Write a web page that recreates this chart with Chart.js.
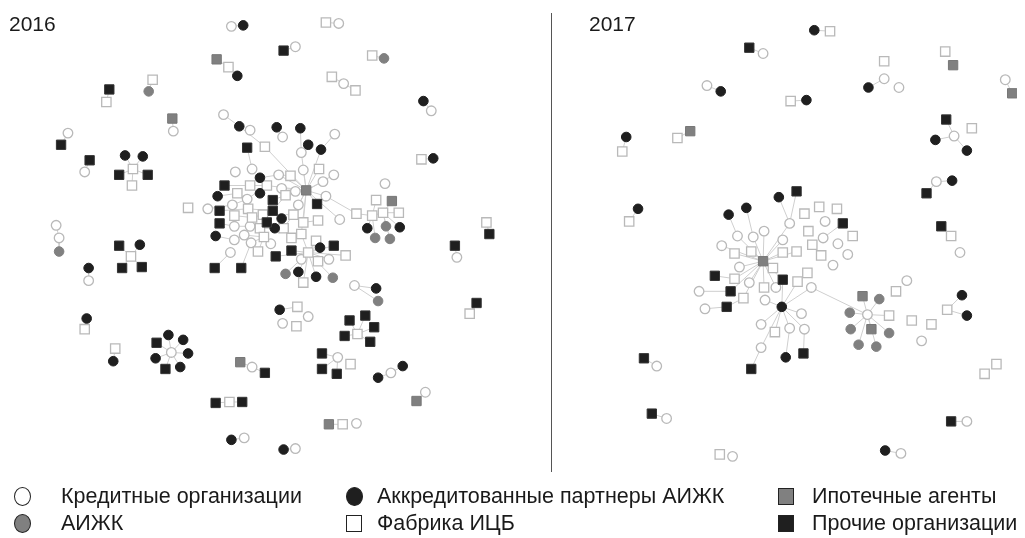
<!DOCTYPE html>
<html><head><meta charset="utf-8">
<script src="https://cdn.jsdelivr.net/npm/chart.js@4.4.1/dist/chart.umd.min.js"></script>
<style>
html,body{margin:0;padding:0;background:#fff;}
body{width:1025px;height:538px;overflow:hidden;position:relative;font-family:"Liberation Sans",Arial,sans-serif;color:#1a1a1a;}
#c{position:absolute;left:0;top:0;}
.title{position:absolute;top:12px;font-size:21px;line-height:24px;}
#divider{position:absolute;left:551px;top:13px;height:459px;border-left:1.3px solid #555;}
.lg{position:absolute;font-size:21.5px;line-height:24px;white-space:nowrap;}
.mk{position:absolute;box-sizing:border-box;}
</style></head>
<body>
<canvas id="c" width="1025" height="538"></canvas>
<div class="title" style="left:9px">2016</div>
<div class="title" style="left:589px">2017</div>
<div id="divider"></div>
<div id="legend"></div>
<script>
// ---- Node positions (chart units) by type ----
// Кредитные организации
const creditOrgs = [
 [227,19],[336,16],[292,40],[341,78],[430,106],[168,127],[61,129],[78,169],[49,224],[52,237],[82,281],[166,355],[248,370],[240,443],[292,454],[354,428],[424,396],[389,376],[335,360],[279,325],[305,318],[352,286],[456,257],[383,181],
 [219,110],[246,126],[279,133],[332,130],[298,149],[231,169],[248,166],[275,172],[300,167],[331,172],[320,179],[278,186],[292,189],[323,194],[243,197],[295,203],[228,203],[203,207],[337,218],[230,225],[246,225],[240,234],[230,239],[247,242],[267,243],[226,252],[298,259],[326,259],
 [767,47],[710,80],[890,73],[905,82],[1013,74],[961,132],[943,179],[967,252],[974,426],[907,459],[659,369],[669,423],[736,462],[873,316],[913,281],[928,343],[794,222],[830,220],[828,237],[843,243],[853,254],[838,265],
 [741,235],[757,236],[768,230],[787,239],[725,245],[743,267],[753,283],[702,292],[780,288],[708,310],[769,301],[765,326],[765,350],[816,288],[806,315],[794,330],[809,331]
];
// Аккредитованные партнеры АИЖК
const partners = [
 [239,18],[233,70],[119,152],[137,153],[134,244],[82,268],[80,320],[107,364],[163,337],[178,342],[183,356],[150,361],[175,370],[227,445],[280,455],[376,381],[401,369],[374,289],[276,311],[422,96],[432,155],[365,227],[398,226],
 [235,122],[273,123],[297,124],[305,141],[318,146],[256,175],[256,191],[213,194],[278,217],[271,227],[211,235],[317,247],[295,272],[313,277],
 [724,86],[628,133],[640,207],[819,23],[874,82],[811,95],[942,136],[974,147],[959,178],[969,296],[974,317],[891,456],[732,213],[750,206],[783,195],[786,308],[790,360]
];
// Ипотечные агенты
const mortgageAgents = [
 [212,53],[167,114],[303,188],[236,365],[326,429],[415,405],[390,199],
 [693,127],[960,59],[1020,88],[767,261],[868,297],[877,331]
];
// АИЖК
const aijk = [
 [143,86],[382,52],[52,251],[376,302],[384,225],[373,237],[388,238],[282,274],[330,278],
 [885,300],[855,314],[856,331],[895,335],[864,347],[882,349]
];
// Фабрика ИЦБ
const factory = [
 [224,61],[100,97],[147,74],[127,166],[126,183],[323,15],[370,49],[329,71],[353,85],[420,156],[125,256],[78,331],[109,351],[225,406],[340,429],[348,367],[355,336],[294,308],[293,328],[469,315],[486,221],[183,206],[374,198],[354,212],[370,214],[381,211],[397,211],
 [261,143],[287,173],[316,166],[246,183],[263,183],[233,191],[282,193],[244,207],[230,214],[248,216],[259,213],[290,213],[300,221],[315,219],[256,227],[280,227],[260,236],[288,237],[298,233],[313,240],[254,251],[305,252],[343,255],[315,261],[300,283],
 [680,134],[624,148],[631,220],[835,24],[890,55],[795,96],[952,45],[979,124],[958,235],[954,311],[1004,367],[992,377],[723,460],[895,317],[902,292],[918,322],[938,326],
 [824,205],[842,207],[809,212],[813,230],[858,235],[817,244],[826,255],[812,273],[801,251],[787,252],[738,253],[755,251],[777,268],[738,279],[768,288],[747,299],[779,334],[802,282]
];
// Прочие организации
const others = [
 [103,84],[54,141],[83,157],[113,172],[142,172],[280,44],[113,245],[116,268],[136,267],[151,345],[160,372],[261,376],[211,407],[238,406],[347,322],[363,317],[372,329],[342,338],[368,344],[319,356],[319,372],[334,377],[454,245],[476,304],[489,233],
 [243,144],[220,183],[269,198],[314,202],[215,209],[269,209],[215,222],[263,221],[331,245],[288,250],[272,256],[210,268],[237,268],
 [753,41],[953,115],[933,191],[948,225],[958,426],[646,361],[654,418],[801,189],[848,222],[718,276],[734,292],[730,308],[787,280],[755,372],[808,356]
];
// Links: [from, to] node positions
const hub16 = [303,188], hub16b = [305,252], hub17 = [767,261], hub17b = [786,308], aijkHub17 = [873,316];
const links = [
 [[227,19],[239,18]],[[212,53],[224,61]],[[224,61],[233,70]],[[103,84],[100,97]],[[147,74],[143,86]],[[167,114],[168,127]],
 [[61,129],[54,141]],[[83,157],[78,169]],
 [[127,166],[119,152]],[[127,166],[137,153]],[[127,166],[113,172]],[[127,166],[142,172]],[[127,166],[126,183]],
 [[323,15],[336,16]],[[280,44],[292,40]],[[370,49],[382,52]],[[329,71],[341,78]],[[341,78],[353,85]],[[422,96],[430,106]],[[420,156],[432,155]],
 [[49,224],[52,237]],[[52,237],[52,251]],
 [[125,256],[113,245]],[[125,256],[134,244]],[[125,256],[116,268]],[[125,256],[136,267]],
 [[82,268],[82,281]],[[80,320],[78,331]],[[109,351],[107,364]],
 [[166,355],[163,337]],[[166,355],[178,342]],[[166,355],[151,345]],[[166,355],[183,356]],[[166,355],[150,361]],[[166,355],[160,372]],[[166,355],[175,370]],
 [[236,365],[248,370]],[[248,370],[261,376]],[[211,407],[225,406]],[[225,406],[238,406]],[[227,445],[240,443]],[[280,455],[292,454]],
 [[326,429],[340,429]],[[424,396],[415,405]],[[376,381],[389,376]],[[389,376],[401,369]],
 [[355,336],[347,322]],[[355,336],[363,317]],[[355,336],[372,329]],[[355,336],[342,338]],[[355,336],[368,344]],
 [[335,360],[319,356]],[[335,360],[319,372]],[[335,360],[334,377]],
 [[276,311],[294,308]],[[476,304],[469,315]],[[454,245],[456,257]],[[486,221],[489,233]],
 [[352,286],[374,289]],[[352,286],[376,302]],
 [[323,194],[354,212]],[[354,212],[370,214]],[[370,214],[374,198]],[[370,214],[365,227]],[[370,214],[373,237]],[[370,214],[381,211]],
 [[381,211],[390,199]],[[381,211],[397,211]],[[381,211],[384,225]],[[381,211],[398,226]],[[381,211],[388,238]],
 [hub16,[298,149]],[hub16,[287,173]],[hub16,[300,167]],[hub16,[316,166]],[hub16,[320,179]],[hub16,[331,172]],[hub16,[323,194]],[hub16,[314,202]],
 [hub16,[295,203]],[hub16,[282,193]],[hub16,[292,189]],[hub16,[278,186]],[hub16,[263,183]],[hub16,[261,143]],[hub16,[275,172]],[hub16,[290,213]],
 [hub16,[300,221]],[hub16,[337,218]],[hub16,[318,146]],[hub16,[298,233]],
 [[298,149],[297,124]],[[298,149],[305,141]],[[318,146],[332,130]],[[273,123],[279,133]],
 [[219,110],[235,122]],[[235,122],[261,143]],[[243,144],[248,166]],[[256,175],[275,172]],[[275,172],[287,173]],
 [[256,191],[263,183]],[[220,183],[246,183]],[[246,183],[263,183]],
 [[213,194],[233,191]],[[233,191],[243,197]],[[243,197],[263,183]],[[228,203],[243,197]],[[203,207],[228,203]],
 [[215,209],[244,207]],[[244,207],[269,209]],[[269,209],[282,193]],[[269,198],[282,193]],
 [[230,214],[248,216]],[[248,216],[259,213]],[[259,213],[290,213]],
 [[215,222],[230,225]],[[230,225],[246,225]],[[246,225],[256,227]],[[256,227],[271,227]],[[271,227],[280,227]],[[280,227],[290,213]],[[263,221],[256,227]],[[278,217],[280,227]],
 [[211,235],[230,239]],[[230,239],[240,234]],[[240,234],[260,236]],[[260,236],[256,227]],[[247,242],[260,236]],[[267,243],[260,236]],
 [[226,252],[210,268]],[[247,242],[237,268]],[[254,251],[260,236]],[[315,219],[300,221]],
 [[288,237],[298,233]],[[298,233],hub16b],[[313,240],hub16b],
 [hub16b,[317,247]],[hub16b,[331,245]],[hub16b,[343,255]],[hub16b,[298,259]],[hub16b,[315,261]],[hub16b,[326,259]],[hub16b,[295,272]],
 [hub16b,[313,277]],[hub16b,[330,278]],[hub16b,[282,274]],[hub16b,[300,283]],[hub16b,[288,250]],[hub16b,[272,256]],
 // 2017
 [[753,41],[767,47]],[[710,80],[724,86]],[[680,134],[693,127]],[[628,133],[624,148]],[[640,207],[631,220]],[[819,23],[835,24]],
 [[890,73],[874,82]],[[795,96],[811,95]],[[1013,74],[1020,88]],
 [[961,132],[953,115]],[[961,132],[942,136]],[[961,132],[974,147]],
 [[943,179],[959,178]],[[943,179],[933,191]],[[948,225],[958,235]],[[954,311],[969,296]],[[954,311],[974,317]],
 [[958,426],[974,426]],[[891,456],[907,459]],[[646,361],[659,369]],[[654,418],[669,423]],
 [aijkHub17,[868,297]],[aijkHub17,[885,300]],[aijkHub17,[855,314]],[aijkHub17,[895,317]],[aijkHub17,[856,331]],
 [aijkHub17,[877,331]],[aijkHub17,[895,335]],[aijkHub17,[864,347]],[aijkHub17,[882,349]],[[816,288],aijkHub17],
 [hub17,[741,235]],[hub17,[757,236]],[hub17,[768,230]],[hub17,[787,239]],[hub17,[725,245]],[hub17,[738,253]],[hub17,[755,251]],
 [hub17,[787,252]],[hub17,[743,267]],[hub17,[777,268]],[hub17,[738,279]],[hub17,[753,283]],[hub17,[768,288]],[hub17,[780,288]],
 [hub17,[787,280]],[hub17,[734,292]],[hub17,[747,299]],[hub17,[801,251]],[hub17,[794,222]],
 [[732,213],[741,235]],[[750,206],[757,236]],[[783,195],[794,222]],[[801,189],[794,222]],
 [[702,292],[734,292]],[[708,310],[730,308]],[[730,308],[747,299]],[[718,276],[738,279]],
 [hub17b,[787,280]],[hub17b,[802,282]],[hub17b,[816,288]],[hub17b,[806,315]],[hub17b,[794,330]],[hub17b,[809,331]],
 [hub17b,[765,326]],[hub17b,[779,334]],[hub17b,[769,301]],[hub17b,[765,350]],
 [[794,330],[790,360]],[[809,331],[808,356]],[[765,350],[755,372]],[[848,222],[828,237]]
];

const BLACK = '#1f1f1f', GRAY = '#808080', OPEN = '#b9b9b9', LINK = '#cfcfcf';
const pts = a => a.map(p => ({x:p[0], y:p[1]}));
const linkData = [];
links.forEach(l => { linkData.push({x:l[0][0],y:l[0][1]},{x:l[1][0],y:l[1][1]},{x:l[1][0],y:null}); });

const circ = 4.8, sq = 6.6;
new Chart(document.getElementById('c'), {
  type: 'scatter',
  data: { datasets: [
    {label:'Ипотечные агенты', data: pts(mortgageAgents), pointStyle:'rect', pointRadius:sq, backgroundColor:GRAY, borderColor:'#777', borderWidth:1},
    {label:'Прочие организации', data: pts(others), pointStyle:'rect', pointRadius:sq, backgroundColor:BLACK, borderColor:'#333', borderWidth:1},
    {label:'Аккредитованные партнеры АИЖК', data: pts(partners), pointStyle:'circle', pointRadius:circ, backgroundColor:BLACK, borderColor:BLACK, borderWidth:1},
    {label:'АИЖК', data: pts(aijk), pointStyle:'circle', pointRadius:circ, backgroundColor:GRAY, borderColor:GRAY, borderWidth:1},
    {label:'Фабрика ИЦБ', data: pts(factory), pointStyle:'rect', pointRadius:sq, backgroundColor:'#fff', borderColor:OPEN, borderWidth:1.3},
    {label:'Кредитные организации', data: pts(creditOrgs), pointStyle:'circle', pointRadius:circ, backgroundColor:'#fff', borderColor:OPEN, borderWidth:1.3},
    {label:'links', data: linkData, showLine:true, spanGaps:false, borderColor:LINK, borderWidth:1, pointRadius:0}
  ]},
  options: {
    responsive:false, animation:false, events:[],
    layout:{padding:0},
    plugins:{legend:{display:false}, tooltip:{enabled:false}},
    scales:{
      x:{type:'linear', min:0, max:1025, display:false},
      y:{type:'linear', min:0, max:538, reverse:true, display:false}
    }
  }
});

// ---- Legend (HTML) ----
const legendItems = [
  {label:'Кредитные организации', shape:'circle', fill:'#fff', col:0, row:0},
  {label:'Аккредитованные партнеры АИЖК', shape:'circle', fill:BLACK, col:1, row:0},
  {label:'Ипотечные агенты', shape:'square', fill:GRAY, col:2, row:0},
  {label:'АИЖК', shape:'circle', fill:GRAY, col:0, row:1},
  {label:'Фабрика ИЦБ', shape:'square', fill:'#fff', col:1, row:1},
  {label:'Прочие организации', shape:'square', fill:BLACK, col:2, row:1}
];
const colMarker = [22, 354, 786], colText = [61, 377, 812], rowY = [496, 523];
const lg = document.getElementById('legend');
legendItems.forEach(it => {
  const m = document.createElement('div');
  m.className = 'mk';
  const s = it.shape === 'circle' ? 19 : 17;
  m.style.width = (it.shape==='circle'?17:16) + 'px'; m.style.height = s + 'px';
  m.style.left = (colMarker[it.col] - (it.shape==='circle'?8.5:8)) + 'px';
  m.style.top = (rowY[it.row] - s/2) + 'px';
  m.style.background = it.fill;
  m.style.border = '1.2px solid #222';
  if (it.shape === 'circle') m.style.borderRadius = '50%';
  lg.appendChild(m);
  const t = document.createElement('div');
  t.className = 'lg'; t.textContent = it.label;
  t.style.left = colText[it.col] + 'px';
  t.style.top = (rowY[it.row] - 12) + 'px';
  lg.appendChild(t);
});
</script>
</body></html>
